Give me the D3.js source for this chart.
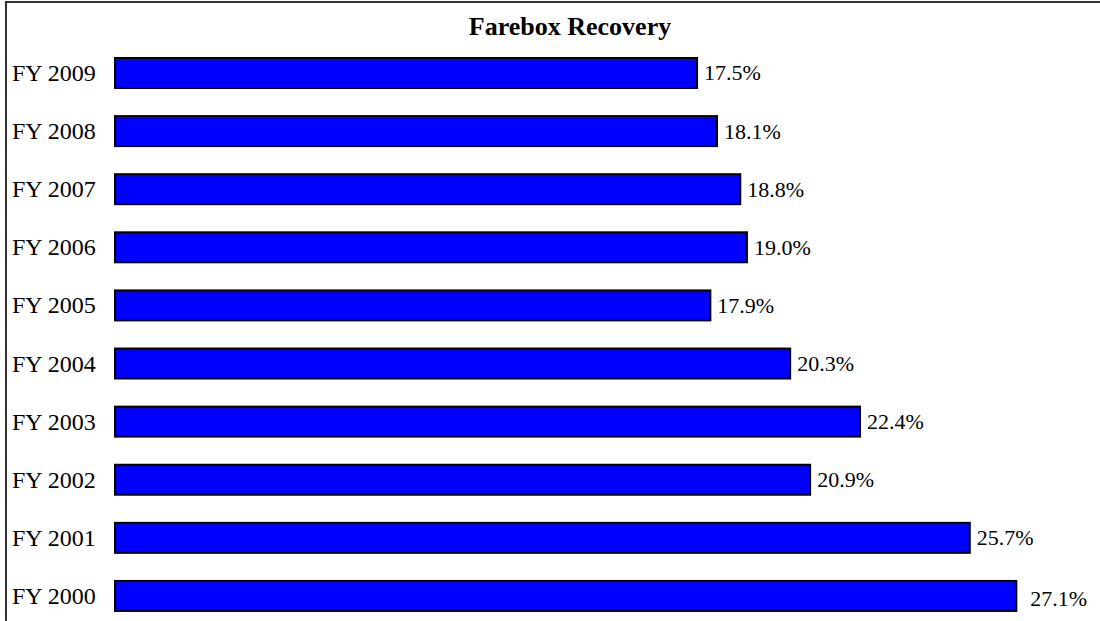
<!DOCTYPE html>
<html>
<head>
<meta charset="utf-8">
<script src="https://cdn.jsdelivr.net/npm/d3@7"></script>
<style>
  body { margin: 0; background: #fff; }
  svg { display: block; }
</style>
</head>
<body>
<svg id="chart" width="1100" height="621"></svg>
<script>
// farebox recovery by fiscal year, top row first
var years = ["FY 2009", "FY 2008", "FY 2007", "FY 2006", "FY 2005",
             "FY 2004", "FY 2003", "FY 2002", "FY 2001", "FY 2000"];
var recovery = [17.5, 18.1, 18.8, 19.0, 17.9, 20.3, 22.4, 20.9, 25.7, 27.1];
var title = "Farebox Recovery";

var svg = d3.select("#chart");
var font = "'Liberation Serif', 'Times New Roman', serif";

// outer frame (right and bottom edges run off the picture)
svg.append("path")
    .attr("d", "M6,640 L6,2 L1120,2")
    .attr("fill", "none")
    .attr("stroke", "#333")
    .attr("stroke-width", 2);

var data = years.map(function (d, i) { return { year: d, value: recovery[i] }; });

var x = d3.scaleLinear().domain([0, 30]).range([115, 115 + 33.26 * 30]);
var y = d3.scaleBand().domain(years).range([43.94, 625]).paddingInner(0.484).paddingOuter(0.242);

svg.append("text")
    .attr("x", 570)
    .attr("y", 35)
    .attr("text-anchor", "middle")
    .attr("font-family", font)
    .attr("font-weight", "bold")
    .attr("font-size", 26)
    .text(title);

svg.selectAll("rect.bar")
    .data(data)
    .enter().append("rect")
    .attr("class", "bar")
    .attr("x", x(0))
    .attr("y", function (d) { return y(d.year); })
    .attr("width", function (d) { return x(d.value) - x(0); })
    .attr("height", y.bandwidth())
    .attr("fill", "#0000ff")
    .attr("stroke", "#000")
    .attr("stroke-width", 2);

svg.selectAll("text.cat")
    .data(data)
    .enter().append("text")
    .attr("class", "cat")
    .attr("x", 12)
    .attr("y", function (d) { return y(d.year) + y.bandwidth() / 2; })
    .attr("dominant-baseline", "central")
    .attr("font-family", font)
    .attr("font-size", 24)
    .text(function (d) { return d.year; });

// the longest bar's label gets pushed out a little, as in the original
var last = years[years.length - 1];
svg.selectAll("text.val")
    .data(data)
    .enter().append("text")
    .attr("class", "val")
    .attr("x", function (d) { return x(d.value) + (d.year === last ? 14 : 7); })
    .attr("y", function (d) { return y(d.year) + y.bandwidth() / 2 + (d.year === last ? 3 : 0); })
    .attr("dominant-baseline", "central")
    .attr("font-family", font)
    .attr("font-size", 22)
    .text(function (d) { return d.value.toFixed(1) + "%"; });
</script>
</body>
</html>
